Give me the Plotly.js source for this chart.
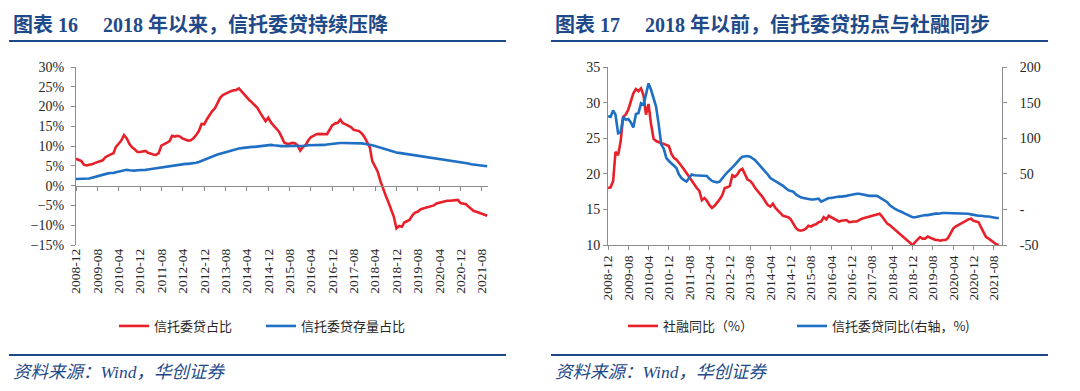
<!DOCTYPE html>
<html>
<head>
<meta charset="utf-8">
<script src="https://cdn.plot.ly/plotly-3.0.1.min.js"></script>
<style>
html,body{margin:0;padding:0;background:#fff;}
#chart{width:1080px;height:391px;}
</style>
</head>
<body>
<div id="chart"></div>
<script>
// ---------- DATA ----------
const startYear = 2008, startMonth = 12;   // first observation 2008-12, monthly
const xTickLabels = ['2008-12','2009-08','2010-04','2010-12','2011-08','2012-04','2012-12','2013-08','2014-04','2014-12',
  '2015-08','2016-04','2016-12','2017-08','2018-04','2018-12','2019-08','2020-04','2020-12','2021-08'];

// Chart 16: 信托委贷占比 (%)
const trustShareFlow = [
  6.8,6.5,6.2,5.3,5.1,5.3,5.4,5.7,6.0,6.3,
  6.4,7.2,7.6,7.9,8.2,9.8,10.6,11.4,12.8,12.0,
  10.6,9.7,9.2,8.5,8.5,8.7,8.8,8.3,8.0,7.9,
  7.8,8.2,10.1,10.5,10.9,11.2,12.6,12.4,12.6,12.4,
  11.9,11.6,11.4,11.5,12.0,12.8,13.8,15.6,15.5,16.8,
  18.0,18.8,19.5,20.8,22.2,22.9,23.3,23.6,23.9,24.1,
  24.2,24.6,23.8,22.9,22.2,21.6,21.0,20.2,19.6,18.4,
  17.4,16.3,17.2,16.0,15.2,14.5,13.7,12.4,10.9,10.6,
  10.6,10.8,10.7,10.2,8.9,9.8,10.3,11.4,12.3,12.6,
  13.0,13.1,13.1,13.0,13.0,14.2,15.3,15.7,15.9,16.7,
  15.8,15.5,15.1,14.8,14.1,13.9,13.8,13.2,12.3,11.0,
  9.7,6.2,4.8,3.6,1.2,-0.8,-2.5,-4.2,-6.0,-7.8,
  -10.8,-10.2,-10.4,-9.3,-9.0,-8.6,-7.5,-6.8,-6.6,-6.0,
  -5.8,-5.6,-5.5,-5.3,-5.0,-4.5,-4.3,-4.0,-3.9,-3.8,
  -3.8,-3.7,-3.6,-3.6,-4.4,-4.6,-4.7,-5.3,-5.8,-6.4,
  -6.6,-6.8,-7.0,-7.3,-7.6
];
// Chart 16: 信托委贷存量占比 (%)
const trustShareStock = [
  1.7,1.7,1.7,1.7,1.7,1.8,2.0,2.2,2.4,2.6,
  2.8,3.0,3.1,3.2,3.2,3.4,3.6,3.8,4.0,4.0,
  3.9,3.8,3.8,3.9,3.9,4.0,4.0,4.1,4.2,4.4,
  4.5,4.6,4.7,4.8,4.9,5.0,5.1,5.2,5.3,5.3,
  5.4,5.5,5.5,5.6,5.6,5.8,6.0,6.3,6.6,6.9,
  7.2,7.5,7.7,7.9,8.1,8.3,8.5,8.7,8.9,9.1,
  9.3,9.4,9.5,9.6,9.7,9.7,9.8,9.8,9.9,9.9,
  10.0,10.0,10.1,10.3,10.2,10.1,10.1,10.0,10.0,10.0,
  10.0,10.0,10.0,10.0,10.1,10.1,10.1,10.2,10.2,10.2,
  10.3,10.3,10.3,10.3,10.4,10.5,10.6,10.7,10.8,10.8,
  10.8,10.8,10.7,10.7,10.7,10.7,10.7,10.7,10.6,10.5,
  10.4,10.2,10.0,9.8,9.5,9.3,9.1,8.9,8.7,8.6,
  8.4,8.3,8.2,8.1,8.0,7.9,7.8,7.7,7.6,7.5,
  7.4,7.3,7.2,7.1,7.0,6.9,6.8,6.7,6.6,6.5,
  6.4,6.3,6.2,6.1,6.0,5.9,5.8,5.6,5.4,5.3,
  5.2,5.1,5.0,5.0,4.9
];
// Chart 17: 社融同比 (%) - left axis
const tsfYoY = [
  18.0,18.1,19.0,23.1,22.6,24.5,28.0,28.3,29.0,30.2,
  31.3,31.9,31.6,32.0,31.0,28.3,29.8,27.0,24.9,24.6,
  24.4,24.3,24.2,24.0,23.9,22.8,22.2,22.0,21.6,21.1,
  20.6,20.1,19.5,19.0,18.4,18.0,17.6,16.3,16.6,16.2,
  15.6,15.2,15.5,15.9,16.4,17.0,18.0,18.1,18.3,19.8,
  19.6,19.9,20.5,20.7,19.8,19.2,19.0,18.6,18.0,17.6,
  17.1,16.7,16.1,15.6,15.4,15.8,15.2,14.8,14.4,14.1,
  14.0,13.9,13.6,13.0,12.4,12.1,12.0,12.1,12.3,12.7,
  12.6,12.8,12.9,13.2,13.3,13.9,13.6,14.1,13.9,13.7,
  13.5,13.3,13.4,13.5,13.5,13.2,13.3,13.3,13.3,13.5,
  13.7,13.8,13.9,13.9,14.1,14.2,14.3,14.4,14.0,13.5,
  13.0,12.8,12.5,12.2,11.8,11.6,11.3,11.0,10.6,10.3,
  10.0,10.4,10.8,11.1,10.9,10.9,11.2,11.0,10.8,10.7,
  10.7,10.6,10.7,10.7,11.0,11.6,12.3,12.6,12.8,13.0,
  13.3,13.5,13.6,13.7,13.4,13.3,13.2,12.5,11.7,11.1,
  10.9,10.6,10.3,10.1,10.0
];
// Chart 17: 信托委贷同比 (%) - right axis
const trustYoY = [
  131,130,139,133,107,108,130,126,127,122,
  115,134,135,149,147,160,177,168,155,144,
  119,91,85,72,68,65,62,58,49,44,
  41,39,44,49,48,48,48,48,48,47,
  43,40,39,38,39,44,48,52,55,59,
  63,67,71,74,75,75,74,72,69,65,
  61,57,54,49,44,42,40,38,35,33,
  30,27,26,25,21,19,17,16,15,14,
  14,14,14,15,11,13,15,16,16,17,
  17,18,18,18,19,20,21,21,22,22,
  21,20,20,19,19,19,19,17,15,13,
  10,6,3,1,-1,-2,-4,-6,-8,-10,
  -11,-11,-10,-10,-9,-8,-8,-7,-7,-6,
  -6,-5,-5,-5,-5,-5,-5,-5,-5,-5,
  -5,-6,-6,-7,-8,-9,-9,-9,-10,-10,
  -10,-11,-11,-12,-12
];
const rightAxisTickVals = [-50, 0, 50, 100, 150, 200];
const rightAxisTickText = ['-50', '-', '50', '100', '150', '200'];

// month sequence (category dates)
const months = trustShareFlow.map((_, i) => {
  const t = (startMonth - 1) + i;
  const y = startYear + Math.floor(t / 12);
  const m = (t % 12) + 1;
  return y + '-' + String(m).padStart(2, '0') + '-01';
});
const tickVals = xTickLabels.map(s => s + '-01');

// ---------- STYLE ----------
const RED = '#E8202A', BLUE = '#1F6FC4', NAVY = '#1F4A89', AX = '#8C8C8C', TXT = '#262626';
const SERIF = 'Liberation Serif, Times New Roman, serif';
const CJK = 'Noto Sans CJK SC, sans-serif';
const MIX = 'Liberation Serif, Noto Sans CJK SC, serif';
const W = 1080, H = 391;
const px = v => v / W, py = v => (H - v) / H;

const yDom = [py(245), py(67)];
const leftYRange = [-15, 30];
const zeroPos = yDom[0] + (0 - leftYRange[0]) / (leftYRange[1] - leftYRange[0]) * (yDom[1] - yDom[0]);

const xCommon = {
  type: 'date', tickmode: 'array', tickvals: tickVals, ticktext: xTickLabels,
  tickangle: -90, showgrid: false, zeroline: false,
  tickfont: {family: SERIF, size: 13.5, color: TXT}
};

const traces = [
  {x: months, y: trustShareFlow, xaxis: 'x', yaxis: 'y', type: 'scatter', mode: 'lines',
   name: '信托委贷占比', line: {color: RED, width: 2.6}, legend: 'legend'},
  {x: months, y: trustShareStock, xaxis: 'x', yaxis: 'y', type: 'scatter', mode: 'lines',
   name: '信托委贷存量占比', line: {color: BLUE, width: 2.6}, legend: 'legend2'},
  {x: [months[0]], y: [null], xaxis: 'x3', yaxis: 'y', type: 'scatter', mode: 'lines',
   showlegend: false, hoverinfo: 'skip'},
  {x: months, y: tsfYoY, xaxis: 'x2', yaxis: 'y2', type: 'scatter', mode: 'lines',
   name: '社融同比（%）', line: {color: RED, width: 2.6}, legend: 'legend3'},
  {x: months, y: trustYoY, xaxis: 'x2', yaxis: 'y4', type: 'scatter', mode: 'lines',
   name: '信托委贷同比(右轴，%)', line: {color: BLUE, width: 2.6}, legend: 'legend4'}
];

const legendBase = (xLeft) => ({
  orientation: 'h', x: px(xLeft), xanchor: 'left', y: py(326), yanchor: 'middle',
  font: {family: CJK, size: 13, color: TXT}, bgcolor: 'rgba(0,0,0,0)'
});

const layout = {
  width: W, height: H,
  margin: {l: 0, r: 0, t: 0, b: 0},
  paper_bgcolor: '#fff', plot_bgcolor: 'rgba(0,0,0,0)',
  showlegend: true,
  xaxis: Object.assign({}, xCommon, {
    domain: [px(76), px(488)], anchor: 'y', range: ['2008-12-01', '2021-10-10'],
    showline: false, ticks: ''
  }),
  xaxis3: {
    type: 'date', overlaying: 'x', anchor: 'free', position: zeroPos,
    range: ['2008-12-01', '2021-10-10'], tickmode: 'array', tickvals: tickVals,
    showticklabels: false, showline: true, linecolor: AX, linewidth: 1,
    ticks: 'outside', ticklen: 4, tickcolor: AX, showgrid: false, zeroline: false
  },
  yaxis: {
    domain: yDom, anchor: 'x', range: leftYRange, dtick: 5, tick0: 0, ticksuffix: '%',
    showline: true, linecolor: AX, linewidth: 1, ticks: 'outside', ticklen: 4, tickcolor: AX,
    showgrid: false, zeroline: false, ticklabelstandoff: 4,
    tickfont: {family: SERIF, size: 14, color: TXT}
  },
  xaxis2: Object.assign({}, xCommon, {
    domain: [px(608), px(1002)], anchor: 'y2', range: ['2008-12-01', '2021-11-08'],
    showline: true, linecolor: AX, linewidth: 1, ticks: 'outside', ticklen: 4, tickcolor: AX
  }),
  yaxis2: {
    domain: yDom, anchor: 'x2', range: [10, 35], dtick: 5, tick0: 10,
    showline: true, linecolor: AX, linewidth: 1, ticks: 'outside', ticklen: 4, tickcolor: AX,
    showgrid: false, zeroline: false, ticklabelstandoff: 0,
    tickfont: {family: SERIF, size: 14, color: TXT}
  },
  yaxis4: {
    overlaying: 'y2', side: 'right', anchor: 'x2', range: [-50, 200],
    tickmode: 'array', tickvals: rightAxisTickVals, ticktext: rightAxisTickText,
    showline: true, linecolor: AX, linewidth: 1, ticks: 'outside', ticklen: 4, tickcolor: AX,
    showgrid: false, zeroline: false, ticklabelstandoff: 10,
    tickfont: {family: SERIF, size: 14, color: TXT}
  },
  legend: legendBase(114),
  legend2: legendBase(261),
  legend3: legendBase(623),
  legend4: legendBase(792),
  annotations: [
    {xref: 'paper', yref: 'paper', x: px(11), y: py(25), xanchor: 'left', yanchor: 'middle', showarrow: false,
     text: '<b>图表 16\u00A0\u00A0\u00A0\u00A0 2018 年以来，信托委贷持续压降</b>',
     font: {family: MIX, size: 20, color: NAVY}},
    {xref: 'paper', yref: 'paper', x: px(553), y: py(25), xanchor: 'left', yanchor: 'middle', showarrow: false,
     text: '<b>图表 17\u00A0\u00A0\u00A0\u00A0 2018 年以前，信托委贷拐点与社融同步</b>',
     font: {family: MIX, size: 20, color: NAVY}},
    {xref: 'paper', yref: 'paper', x: px(11), y: py(372), xanchor: 'left', yanchor: 'middle', showarrow: false,
     text: '<i>资料来源：Wind，华创证券</i>',
     font: {family: MIX, size: 17.5, color: NAVY}},
    {xref: 'paper', yref: 'paper', x: px(553), y: py(372), xanchor: 'left', yanchor: 'middle', showarrow: false,
     text: '<i>资料来源：Wind，华创证券</i>',
     font: {family: MIX, size: 17.5, color: NAVY}}
  ],
  shapes: [
    {type: 'line', xref: 'paper', yref: 'paper', x0: px(9), x1: px(506), y0: py(41), y1: py(41), line: {color: NAVY, width: 2}},
    {type: 'line', xref: 'paper', yref: 'paper', x0: px(551), x1: px(1048), y0: py(41), y1: py(41), line: {color: NAVY, width: 2}},
    {type: 'line', xref: 'paper', yref: 'paper', x0: px(9), x1: px(506), y0: py(355), y1: py(355), line: {color: NAVY, width: 2}},
    {type: 'line', xref: 'paper', yref: 'paper', x0: px(551), x1: px(1048), y0: py(355), y1: py(355), line: {color: NAVY, width: 2}}
  ]
};

Plotly.newPlot('chart', traces, layout, {displayModeBar: false, staticPlot: true});
</script>
</body>
</html>
